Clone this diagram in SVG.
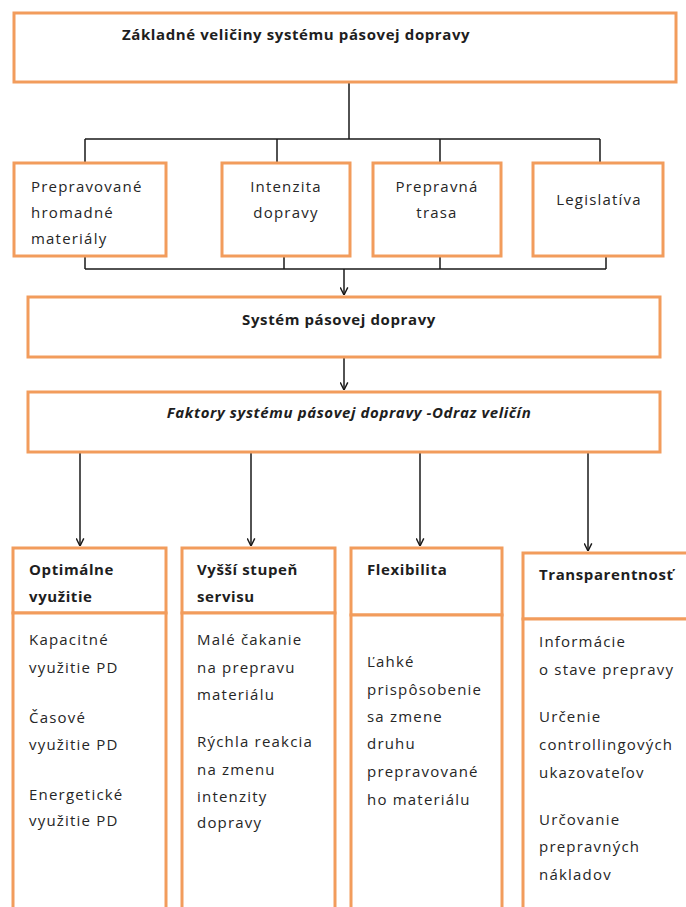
<svg xmlns="http://www.w3.org/2000/svg" width="686" height="907" viewBox="0 0 686 907">
<defs>
<style>
.box{fill:#ffffff;stroke:#F29C5C;stroke-width:3}
.ln{fill:none;stroke:#1a1a1a;stroke-width:1.5}
.t{font-family:"Open Sans","Liberation Sans",sans-serif;font-size:15px;fill:#262626;letter-spacing:1.2px}
.b{font-family:"Open Sans","Liberation Sans",sans-serif;font-size:15px;font-weight:bold;fill:#1e1e1e;letter-spacing:0.6px}
.bi{font-style:italic}
.m{text-anchor:middle}
</style>
<marker id="ar" viewBox="0 0 10 10" refX="5" refY="9.5" markerWidth="9" markerHeight="9" markerUnits="userSpaceOnUse" orient="auto">
<path d="M0.8,1 L5,9.5 L9.2,1" fill="none" stroke="#1a1a1a" stroke-width="1.6" transform="rotate(-90 5 5)"/>
</marker>
<marker id="ar2" viewBox="0 0 10 10" refX="5" refY="9.5" markerWidth="9" markerHeight="9" markerUnits="userSpaceOnUse">
<path d="M0.8,1 L5,9.5 L9.2,1" fill="none" stroke="#1a1a1a" stroke-width="1.6"/>
</marker>
</defs>
<rect width="686" height="907" fill="#ffffff"/>

<g id="connectors">
<path class="ln" d="M349,82 V139 M85,139 H600 M85,139 V163 M277,139 V163 M440,139 V163 M600,139 V163"/>
<path class="ln" d="M85,256 V269 M284,256 V269 M440,256 V269 M606,256 V269 M85,269 H606"/>
<path class="ln" d="M344,269 V295" marker-end="url(#ar2)"/>
<path class="ln" d="M344,357 V390" marker-end="url(#ar2)"/>
<path class="ln" d="M80,452 V546" marker-end="url(#ar2)"/>
<path class="ln" d="M251,452 V546" marker-end="url(#ar2)"/>
<path class="ln" d="M420,452 V546" marker-end="url(#ar2)"/>
<path class="ln" d="M588,452 V551" marker-end="url(#ar2)"/>
</g>

<g id="n-top">
<rect class="box" x="14" y="13" width="662" height="69"/>
<text class="b" x="122" y="40">Základné veličiny systému pásovej dopravy</text>
</g>

<g id="n-materialy">
<rect class="box" x="14" y="163" width="152" height="93"/>
<text class="t" x="31" y="192">Prepravované</text>
<text class="t" x="31" y="218">hromadné</text>
<text class="t" x="31" y="244">materiály</text>
</g>

<g id="n-intenzita">
<rect class="box" x="222" y="163" width="128" height="93"/>
<text class="t m" x="286" y="192">Intenzita</text>
<text class="t m" x="286" y="218">dopravy</text>
</g>

<g id="n-trasa">
<rect class="box" x="373" y="163" width="128" height="93"/>
<text class="t m" x="437" y="192">Prepravná</text>
<text class="t m" x="437" y="218">trasa</text>
</g>

<g id="n-legislativa">
<rect class="box" x="533" y="163" width="130" height="93"/>
<text class="t m" x="599" y="205">Legislatíva</text>
</g>

<g id="n-system">
<rect class="box" x="28" y="297" width="632" height="60"/>
<text class="b m" x="339" y="325">Systém pásovej dopravy</text>
</g>

<g id="n-faktory">
<rect class="box" x="28" y="392" width="632" height="60"/>
<text class="b bi m" x="349" y="418">Faktory systému pásovej dopravy -Odraz veličín</text>
</g>

<g id="n-optimalne">
<rect class="box" x="13" y="548" width="153" height="65"/>
<rect class="box" x="13" y="613" width="153" height="310"/>
<text class="b" x="29" y="575">Optimálne</text>
<text class="b" x="29" y="602">využitie</text>
<text class="t" x="29" y="645">Kapacitné</text>
<text class="t" x="29" y="673">využitie PD</text>
<text class="t" x="29" y="723">Časové</text>
<text class="t" x="29" y="750">využitie PD</text>
<text class="t" x="29" y="800">Energetické</text>
<text class="t" x="29" y="826">využitie PD</text>
</g>

<g id="n-servis">
<rect class="box" x="182" y="548" width="153" height="65"/>
<rect class="box" x="182" y="613" width="153" height="310"/>
<text class="b" x="197" y="575">Vyšší stupeň</text>
<text class="b" x="197" y="602">servisu</text>
<text class="t" x="197" y="645">Malé čakanie</text>
<text class="t" x="197" y="673">na prepravu</text>
<text class="t" x="197" y="700">materiálu</text>
<text class="t" x="197" y="747">Rýchla reakcia</text>
<text class="t" x="197" y="775">na zmenu</text>
<text class="t" x="197" y="802">intenzity</text>
<text class="t" x="197" y="828">dopravy</text>
</g>

<g id="n-flexibilita">
<rect class="box" x="351" y="548" width="151" height="67"/>
<rect class="box" x="351" y="615" width="151" height="310"/>
<text class="b" x="367" y="575">Flexibilita</text>
<text class="t" x="367" y="667">Ľahké</text>
<text class="t" x="367" y="695">prispôsobenie</text>
<text class="t" x="367" y="722">sa  zmene</text>
<text class="t" x="367" y="749">druhu</text>
<text class="t" x="367" y="777">prepravované</text>
<text class="t" x="367" y="805">ho materiálu</text>
</g>

<g id="n-transparentnost">
<rect class="box" x="523" y="553" width="180" height="66"/>
<rect class="box" x="523" y="619" width="180" height="310"/>
<text class="b" x="539" y="580">Transparentnosť</text>
<text class="t" x="539" y="647">Informácie</text>
<text class="t" x="539" y="675">o stave prepravy</text>
<text class="t" x="539" y="722">Určenie</text>
<text class="t" x="539" y="750">controllingových</text>
<text class="t" x="539" y="778">ukazovateľov</text>
<text class="t" x="539" y="825">Určovanie</text>
<text class="t" x="539" y="852">prepravných</text>
<text class="t" x="539" y="880">nákladov</text>
</g>
</svg>
